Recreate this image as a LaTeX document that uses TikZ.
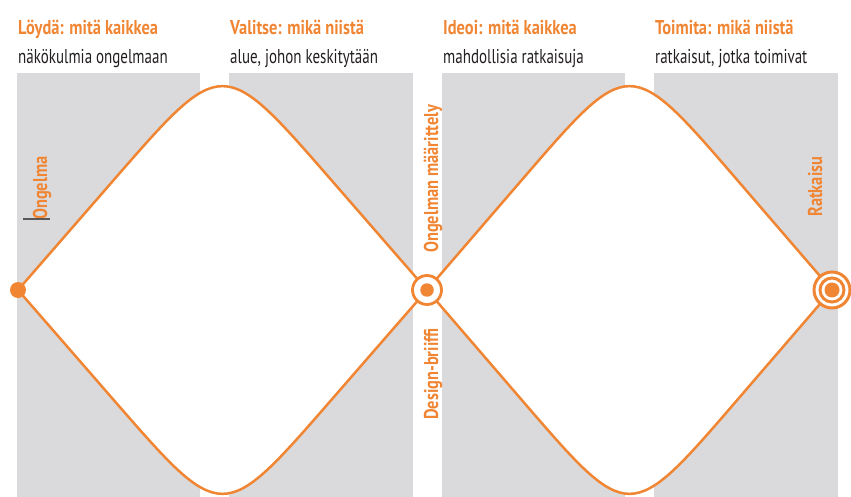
\documentclass[tikz,border=0pt]{standalone}
\usepackage{fontspec}
\setmainfont{PT Sans}[FakeStretch=0.75]
\newfontfamily\headfont{PT Sans}[FakeStretch=0.82]
\usetikzlibrary{calc, backgrounds}
\definecolor{dvorange}{RGB}{240,134,52}
\definecolor{dvgray}{RGB}{218,218,220}
\definecolor{dvtext}{RGB}{35,31,32}

\begin{document}
\begin{tikzpicture}[
    x=1pt, y=-1pt,
    head/.style={anchor=base west, inner sep=0pt, font=\fontsize{20}{24}\headfont\bfseries, text=dvorange},
    sub/.style={anchor=base west, inner sep=0pt, font=\fontsize{20}{24}\selectfont, text=dvtext},
    vlbl/.style={rotate=90, anchor=base west, inner sep=0pt, font=\fontsize{20}{24}\headfont\bfseries, text=dvorange},
    panel/.style={fill=dvgray},
    diam/.style={draw=dvorange, fill=white, line width=2.5pt},
    ring/.style={circle, draw=dvorange, fill=white, line width=2.8pt, inner sep=0pt},
    dot/.style={circle, fill=dvorange, inner sep=0pt}
  ]
  \useasboundingbox (0,0) rectangle (851,497);

  % Headings
  \node[head] (find) at (18,35) {Löydä: mitä kaikkea};
  \node[sub] (findtxt) at (18,64) {näkökulmia ongelmaan};
  \node[head] (choose) at (230,35) {Valitse: mikä niistä};
  \node[sub] (choosetxt) at (230,64) {alue, johon keskitytään};
  \node[head] (ideate) at (443,35) {Ideoi: mitä kaikkea};
  \node[sub] (ideatetxt) at (443,64) {mahdollisia ratkaisuja};
  \node[head] (act) at (655,35) {Toimita: mikä niistä};
  \node[sub] (acttxt) at (655,64) {ratkaisut, jotka toimivat};

  % Milestones
  \node[dot, minimum size=16pt] (start) at (18,290) {};
  \node[ring, minimum size=29pt] (mid) at (427,290) {};
  \node[dot, minimum size=13.5pt] (middot) at (mid) {};
  \node[ring, minimum size=36pt, line width=3pt] (end) at (832,290) {};
  \node[ring, minimum size=24pt, line width=3pt] (endring) at (end) {};
  \node[dot, minimum size=15pt] (enddot) at (end) {};

  % Vertical labels
  \node[vlbl] (problem) at (47,220) {Ongelma};
  \draw[dvtext!75, line width=1.3pt] (23,219) -- (50,219);
  \node[vlbl] (definition) at (438,253) {Ongelman määrittely};
  \node[vlbl] (brief) at (438,420) {Design-briiffi};
  \node[vlbl] (solution) at (822,217) {Ratkaisu};

  % Corners of the diamonds
  \coordinate (t1) at (222.5,55);
  \coordinate (b1) at (222.5,525);
  \coordinate (t2) at (629.5,55);
  \coordinate (b2) at (629.5,525);

  \begin{scope}[on background layer]
    % Panels
    \fill[panel] (17,73) rectangle (200,497);
    \fill[panel] (229,73) rectangle (413,497);
    \fill[panel] (442,73) rectangle (625,497);
    \fill[panel] (654,73) rectangle (838,497);

    % Diverge and converge
    \filldraw[diam] (start.center) -- ($(start.center)!0.47!(t1)$) .. controls (t1) .. ($(mid.center)!0.47!(t1)$)
      -- (mid.center) -- ($(mid.center)!0.47!(b1)$) .. controls (b1) .. ($(start.center)!0.47!(b1)$) -- cycle;
    \filldraw[diam] (mid.center) -- ($(mid.center)!0.47!(t2)$) .. controls (t2) .. ($(end.center)!0.47!(t2)$)
      -- (end.center) -- ($(end.center)!0.47!(b2)$) .. controls (b2) .. ($(mid.center)!0.47!(b2)$) -- cycle;
  \end{scope}

\end{tikzpicture}
\end{document}
